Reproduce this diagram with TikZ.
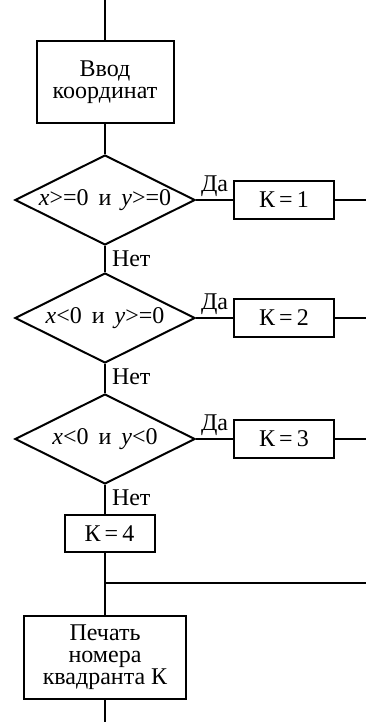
\documentclass[tikz,border=0pt]{standalone}
\usepackage{fontspec}
\setmainfont{Liberation Serif}
\usetikzlibrary{positioning, shapes.geometric}

\begin{document}
\begin{tikzpicture}[
    every node/.style={font=\fontsize{12}{11}\selectfont},
    block/.style={
        rectangle,
        draw,
        line width=1pt,
        inner sep=2pt,
        align=center,
    },
    cond/.style={
        diamond,
        draw,
        line width=1pt,
        aspect=2,
        inner sep=0pt,
        minimum width=90pt,
        minimum height=45pt,
    },
    assign/.style={
        block,
        minimum width=50pt,
        minimum height=19pt,
    },
    flow/.style={
        line width=1pt,
    },
    answer/.style={
        inner sep=1pt,
    },
]

\useasboundingbox (0,0) rectangle (183pt,-361pt);
\coordinate (edge) at (183pt,0);

\coordinate (start) at (52.5pt,0);
\coordinate (stop) at (52.5pt,-361pt);

\node[block, minimum width=68.5pt, minimum height=41pt, below=20pt of start] (vvod) {Ввод\\координат};

\node[cond, below=15pt of vvod] (cond1) {\textit{x}>=0 \,и\, \textit{y}>=0};
\node[cond, below=13pt of cond1] (cond2) {\textit{x}<0 \,и\, \textit{y}>=0};
\node[cond, below=14.5pt of cond2] (cond3) {\textit{x}<0 \,и\, \textit{y}<0};

\node[assign, right=18.5pt of cond1] (k1) {К\,=\,1};
\node[assign, right=18.5pt of cond2] (k2) {К\,=\,2};
\node[assign, right=18.5pt of cond3] (k3) {К\,=\,3};

\node[block, minimum width=45pt, minimum height=18.5pt, below=14.5pt of cond3, xshift=2.25pt] (k4) {К\,=\,4};
\coordinate[below=15pt of cond3.south |- k4.south] (join);
\node[block, minimum width=81pt, minimum height=41.5pt, below=16pt of join] (pechat) {Печать\\номера\\квадранта К};

\draw[flow] (start) -- (vvod);
\draw[flow] (vvod) -- (cond1);

\draw[flow] (cond1) -- node[answer, pos=0, anchor=north west, xshift=2pt, yshift=-1pt] {Нет} (cond2);
\draw[flow] (cond2) -- node[answer, pos=0, anchor=north west, xshift=2pt, yshift=-1pt] {Нет} (cond3);
\draw[flow] (cond3.south) -- node[answer, pos=0, anchor=north west, xshift=2pt, yshift=-1pt] {Нет} (cond3.south |- k4.north);

\draw[flow] (cond1.east) -- node[answer, pos=0, anchor=south west, xshift=1pt] {Да} (k1.west);
\draw[flow] (cond2.east) -- node[answer, pos=0, anchor=south west, xshift=1pt] {Да} (k2.west);
\draw[flow] (cond3.east) -- node[answer, pos=0, anchor=south west, xshift=1pt] {Да} (k3.west);

\draw[flow] (k1.east) -- (k1.east -| edge);
\draw[flow] (k2.east) -- (k2.east -| edge);
\draw[flow] (k3.east) -- (k3.east -| edge);

\draw[flow] (cond3.south |- k4.south) -- (join) -- (pechat);
\draw[flow] (join) -- (join -| edge);
\draw[flow] (pechat) -- (stop);

\end{tikzpicture}
\end{document}
